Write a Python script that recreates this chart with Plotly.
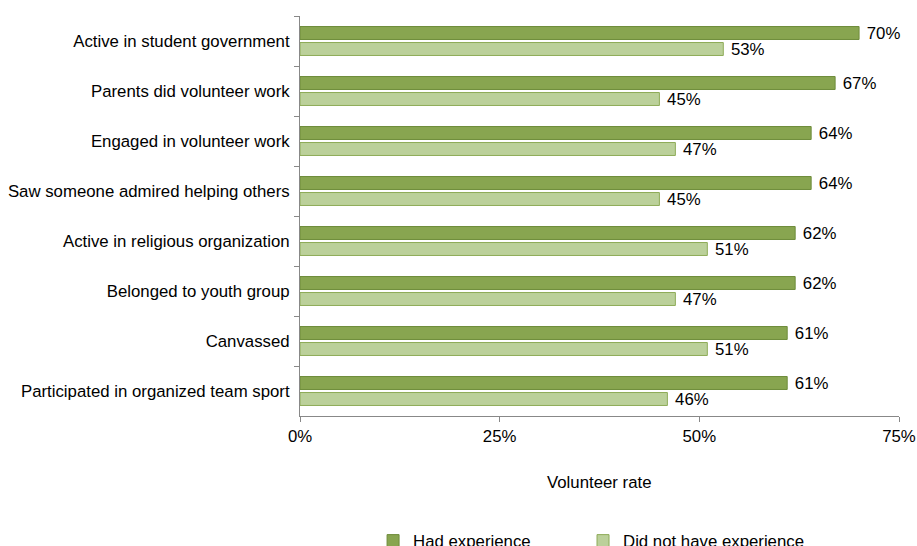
import plotly.graph_objects as go

categories = [
    "Active in student government",
    "Parents did volunteer work",
    "Engaged in volunteer work",
    "Saw someone admired helping others",
    "Active in religious organization",
    "Belonged to youth group",
    "Canvassed",
    "Participated in organized team sport",
]
had_experience = [70, 67, 64, 64, 62, 62, 61, 61]
no_experience = [53, 45, 47, 45, 51, 47, 51, 46]
x_ticks = [0, 25, 50, 75]
x_tick_labels = ["0%", "25%", "50%", "75%"]

font = dict(family="Liberation Sans, Arial, sans-serif", size=16.8, color="#000000")

fig = go.Figure()
fig.add_trace(go.Bar(
    y=categories, x=had_experience, orientation="h", name="Had experience",
    marker=dict(color="#88A550", line=dict(color="#6E8C3A", width=1)),
    text=[f" {v}%" for v in had_experience], textposition="outside",
    textfont=font, cliponaxis=False, constraintext="none", legend="legend",
))
fig.add_trace(go.Bar(
    y=categories, x=no_experience, orientation="h", name="Did not have experience",
    marker=dict(color="#BBD09A", line=dict(color="#8EAB58", width=1)),
    text=[f" {v}%" for v in no_experience], textposition="outside",
    textfont=font, cliponaxis=False, constraintext="none", legend="legend2",
))

fig.update_layout(
    width=917, height=570,
    margin=dict(l=300, r=18, t=16, b=151),
    barmode="group", bargap=0.36, bargroupgap=0.19,
    plot_bgcolor="white", paper_bgcolor="white",
    font=font,
    xaxis=dict(
        range=[0, 75], tickvals=x_ticks, ticktext=x_tick_labels,
        showgrid=False, zeroline=False, showline=True, linecolor="#888888",
        ticks="outside", ticklen=5, tickcolor="#888888", automargin=False,
    ),
    yaxis=dict(
        autorange="reversed", showgrid=False, showline=True, linecolor="#888888",
        ticks="outside", ticklen=5, tickcolor="#888888", tickson="boundaries",
        ticklabelstandoff=6, automargin=False,
    ),
    legend=dict(
        orientation="h", x=0.122, y=-0.268, xanchor="left", yanchor="top",
        font=font,
    ),
    legend2=dict(
        orientation="h", x=0.4725, y=-0.268, xanchor="left", yanchor="top",
        font=font,
    ),
    showlegend=True,
    annotations=[dict(
        text="Volunteer rate", x=0.5, y=-0.166, xref="paper", yref="paper",
        xanchor="center", yanchor="middle", showarrow=False, font=font,
    )],
)

fig.write_html(
    "out.html",
    config={"displayModeBar": False},
    post_script=(
        "document.body.style.margin='0';"
        "document.body.style.overflow='hidden';"
        "document.documentElement.style.overflow='hidden';"
    ),
)
